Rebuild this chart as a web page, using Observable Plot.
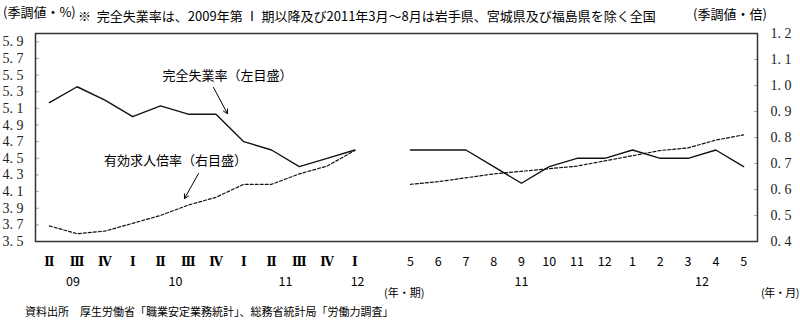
<!DOCTYPE html>
<html>
<head>
<meta charset="utf-8">
<script src="https://cdn.jsdelivr.net/npm/d3@7"></script>
<script src="https://cdn.jsdelivr.net/npm/@observablehq/plot@0.6"></script>
<style>
  html, body { margin: 0; padding: 0; background: #fff; }
  #wrap { position: relative; width: 800px; height: 330px; overflow: hidden; font-family: "Noto Sans CJK JP", sans-serif; color: #000; }
  #wrap svg { position: absolute; left: 0; top: 0; overflow: visible; }
  .t { position: absolute; white-space: nowrap; line-height: 1; }
</style>
</head>
<body>
<div id="wrap">
  <div class="t" style="left:3px; top:5px; font-size:13px;">(季調値・%)</div>
  <div class="t" style="left:78px; top:9px; font-size:13px;">※&nbsp;&nbsp;完全失業率は、2009年第 Ⅰ 期以降及び2011年3月～8月は岩手県、宮城県及び福島県を除く全国</div>
  <div class="t" style="left:693px; top:7px; font-size:13px;">(季調値・倍)</div>
  <div class="t" style="left:384px; top:287px; font-size:11px;">(年・期)</div>
  <div class="t" style="right:1px; top:287px; font-size:11px; letter-spacing:-0.5px;">(年・月)</div>
  <div class="t" style="left:25px; top:306px; font-size:11px;">資料出所　厚生労働省「職業安定業務統計」、総務省統計局「労働力調査」</div>
</div>
<script>
// ---- data ----
const quarterLabels = ["Ⅱ","Ⅲ","Ⅳ","Ⅰ","Ⅱ","Ⅲ","Ⅳ","Ⅰ","Ⅱ","Ⅲ","Ⅳ","Ⅰ"];
const quarterYears  = ["09","10","11","12"];
const monthLabels   = ["5","6","7","8","9","10","11","12","1","2","3","4","5"];
const monthYears    = ["11","12"];
// 完全失業率 (左目盛, %)
const unempQ = [5.17, 5.36, 5.2, 5.0, 5.13, 5.03, 5.03, 4.7, 4.6, 4.4, 4.5, 4.6];
const unempM = [4.6, 4.6, 4.6, 4.4, 4.2, 4.4, 4.5, 4.5, 4.6, 4.5, 4.5, 4.6, 4.4];
// 有効求人倍率 (右目盛, 倍)
const jobsQ = [0.46, 0.43, 0.44, 0.47, 0.50, 0.54, 0.57, 0.62, 0.62, 0.66, 0.69, 0.75];
const jobsM = [0.62, 0.63, 0.645, 0.66, 0.67, 0.68, 0.69, 0.71, 0.73, 0.75, 0.76, 0.79, 0.81];
// axis ticks
const leftTicks  = [3.5, 3.7, 3.9, 4.1, 4.3, 4.5, 4.7, 4.9, 5.1, 5.3, 5.5, 5.7, 5.9];
const rightTicks = [0.4, 0.5, 0.6, 0.7, 0.8, 0.9, 1.0, 1.1, 1.2];
const leftDomain  = [3.5, 6.0];
const rightDomain = [0.4, 1.2];
// annotations
const annotations = [
  {text: "完全失業率（左目盛）", x: 6.41, y: 5.495},
  {text: "有効求人倍率（右目盛）", x: 4.54, y: 4.474}
];
const annotationArrows = [
  {x1: 5.91, y1: 5.351, x2: 6.41, y2: 5.038},
  {x1: 5.37, y1: 4.317, x2: 4.865, y2: 4.017}
];

// ---- build ----
const nQ = quarterLabels.length;
const mStart = nQ + 1;           // one empty slot between the two periods
const toLeft = v => leftDomain[0] + (v - rightDomain[0]) * (leftDomain[1] - leftDomain[0]) / (rightDomain[1] - rightDomain[0]);
const fromLeft = y => rightDomain[0] + (y - leftDomain[0]) * (rightDomain[1] - rightDomain[0]) / (leftDomain[1] - leftDomain[0]);
const fmt = v => d3.format(".1f")(v).replace(".", ". ");

const rows = [];
unempQ.forEach((v, i) => rows.push({series: "u", seg: "q", i, y: v}));
unempM.forEach((v, i) => rows.push({series: "u", seg: "m", i: mStart + i, y: v}));
jobsQ.forEach((v, i) => rows.push({series: "j", seg: "q", i, y: toLeft(v)}));
jobsM.forEach((v, i) => rows.push({series: "j", seg: "m", i: mStart + i, y: toLeft(v)}));
const uRows = rows.filter(d => d.series === "u");
const jRows = rows.filter(d => d.series === "j");

const qIdx = quarterLabels.map((_, i) => i);
const mIdx = monthLabels.map((_, i) => mStart + i);
const yearMarks = [
  {label: quarterYears[0], i: 0.85},
  {label: quarterYears[1], i: 4.54},
  {label: quarterYears[2], i: 8.5},
  {label: quarterYears[3], i: 11.1},
  {label: monthYears[0], i: mStart + 4},
  {label: monthYears[1], i: mStart + 10.5}
];

const W = 800, H = 330, mL = 35, mR = 43, mT = 33, mB = 89;
const nSlots = nQ + 1 + monthLabels.length;

const chart = Plot.plot({
  width: W, height: H,
  marginLeft: mL, marginRight: mR, marginTop: mT, marginBottom: mB,
  style: {background: "transparent", fontFamily: "Noto Sans CJK JP", color: "#000"},
  x: {type: "linear", domain: [-0.5, nSlots - 0.5]},
  y: {domain: leftDomain},
  marks: [
    Plot.axisY(leftTicks, {anchor: "left", tickSize: -4, tickPadding: 16, stroke: "#aaa", fill: "#222",
      tickFormat: fmt, fontFamily: "Liberation Serif", fontSize: 14, label: null}),
    Plot.axisY(rightTicks.map(toLeft), {anchor: "right", tickSize: -4, tickPadding: 17, stroke: "#aaa", fill: "#222",
      tickFormat: d => fmt(Math.round(fromLeft(d) * 10) / 10), fontFamily: "Liberation Serif", fontSize: 14, label: null}),
    Plot.axisX(qIdx, {anchor: "bottom", tickSize: 0, tickPadding: 16, tickFormat: i => quarterLabels[i],
      fontFamily: "DejaVu Serif", fontSize: 12, fontWeight: "bold", label: null}),
    Plot.axisX(mIdx, {anchor: "bottom", tickSize: 0, tickPadding: 16, tickFormat: i => monthLabels[i - mStart],
      fontFamily: "Noto Sans CJK JP", fontSize: 12.5, label: null}),
    Plot.text(yearMarks, {x: "i", text: "label", frameAnchor: "bottom", dy: 44, fontSize: 12.5, fontFamily: "Noto Sans CJK JP"}),
    Plot.line(jRows, {x: "i", y: "y", z: "seg", stroke: "#111", strokeWidth: 1.2, strokeDasharray: "3,2"}),
    Plot.line(uRows, {x: "i", y: "y", z: "seg", stroke: "#111", strokeWidth: 1.4}),
    Plot.text(annotations, {x: "x", y: "y", text: "text", fontSize: 13, fontFamily: "Noto Sans CJK JP", fill: "#000"}),
    Plot.arrow(annotationArrows, {x1: "x1", y1: "y1", x2: "x2", y2: "y2", stroke: "#000", strokeWidth: 1, headLength: 7}),
    Plot.frame({stroke: "#333", strokeWidth: 1.5})
  ]
});
document.getElementById("wrap").prepend(chart);
</script>
</body>
</html>
